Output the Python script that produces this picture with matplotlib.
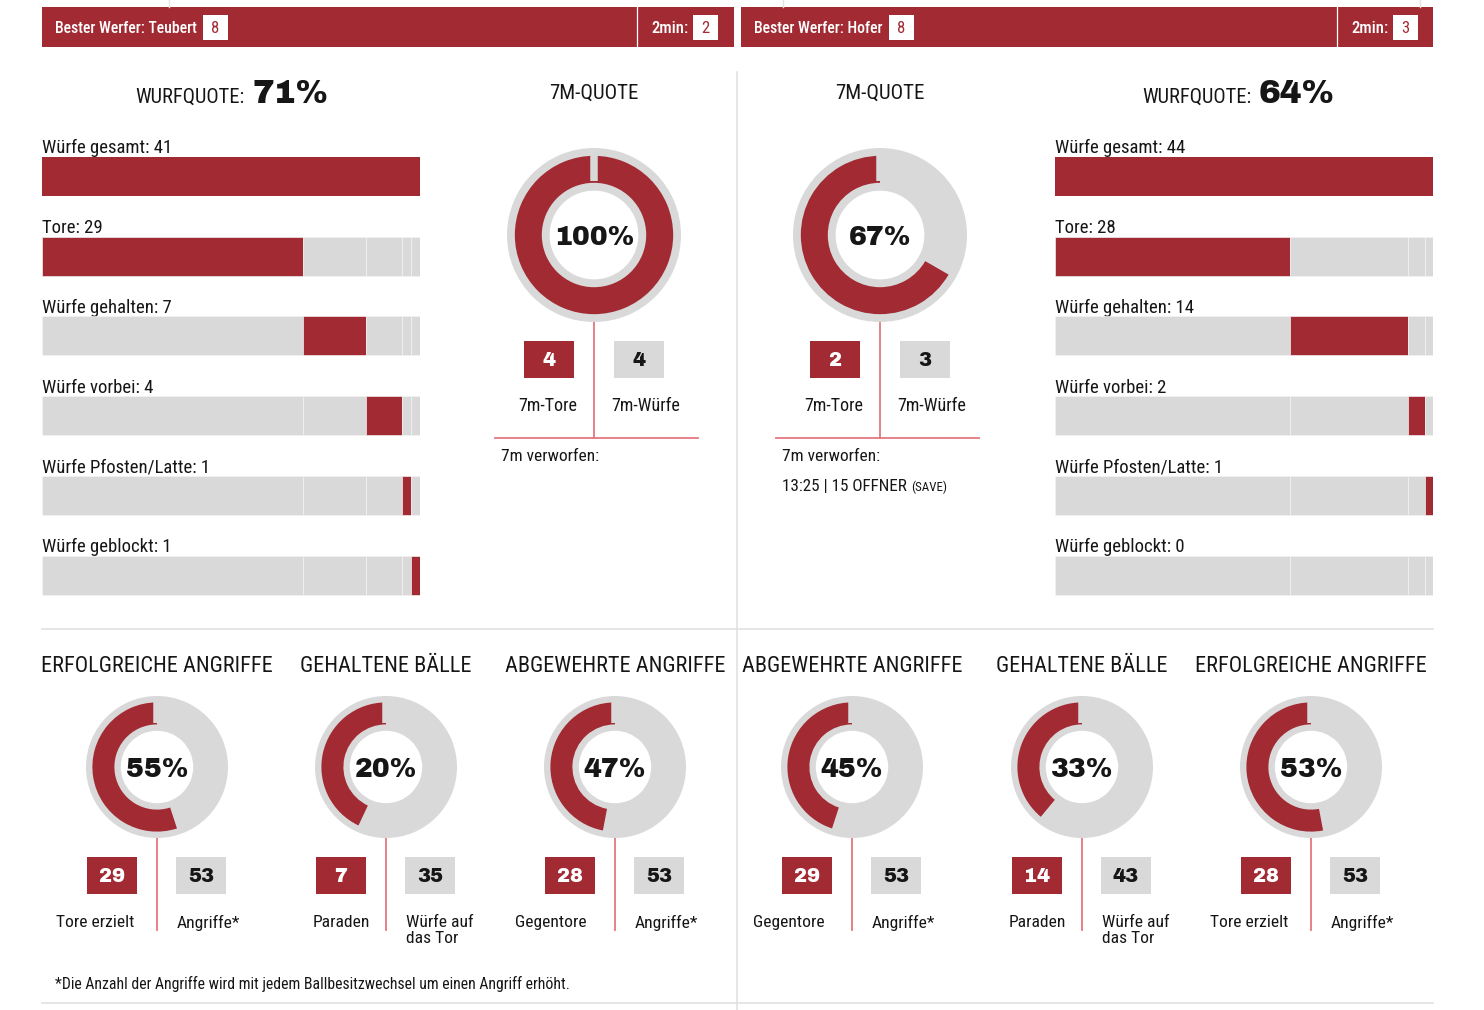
import matplotlib
matplotlib.use('Agg')
import matplotlib.pyplot as plt
from matplotlib.patches import Rectangle

# ---------------- data ----------------
best_player = ['Teubert', 'Hofer']
best_goals = [8, 8]
two_min = [2, 3]
wurfquote = [71, 64]

shot_names = ['Würfe gesamt', 'Tore', 'Würfe gehalten', 'Würfe vorbei',
              'Würfe Pfosten/Latte', 'Würfe geblockt']
shots_total = [41, 44]
shots_left = [29, 7, 4, 1, 1]     # Tore, gehalten, vorbei, Pfosten/Latte, geblockt
shots_right = [28, 14, 2, 1, 0]

seven_goals = [4, 2]
seven_attempts = [4, 3]
seven_missed = ['', '13:25 | 15 OFFNER']
seven_missed_note = ['', '(SAVE)']

titles_left = ['ERFOLGREICHE ANGRIFFE', 'GEHALTENE BÄLLE', 'ABGEWEHRTE ANGRIFFE']
titles_right = ['ABGEWEHRTE ANGRIFFE', 'GEHALTENE BÄLLE', 'ERFOLGREICHE ANGRIFFE']
pct_left = [55, 20, 47]
pct_right = [45, 33, 53]
ring_left = [55, 43, 47]          # ring fill as drawn in the graphic (%)
ring_right = [45, 39, 53]
red_val_left = [29, 7, 28]
gray_val_left = [53, 35, 53]
red_val_right = [29, 14, 28]
gray_val_right = [53, 43, 53]
red_lbl_left = ['Tore erzielt', 'Paraden', 'Gegentore']
gray_lbl_left = ['Angriffe*', 'Würfe auf\ndas Tor', 'Angriffe*']
red_lbl_right = ['Gegentore', 'Paraden', 'Tore erzielt']
gray_lbl_right = ['Angriffe*', 'Würfe auf\ndas Tor', 'Angriffe*']
footnote = '*Die Anzahl der Angriffe wird mit jedem Ballbesitzwechsel um einen Angriff erhöht.'

# ---------------- style ----------------
RED = '#a22a33'
GRAY = '#d9d9d9'
PINK = '#e5767e'
SEP = '#e2e2e2'
TXT = '#161616'
COND = ['Roboto Condensed', 'IBM Plex Sans Condensed', 'DejaVu Sans']
WIDE = ['Archivo Black', 'DejaVu Sans']
PX = 100 / 72.0

W, H = 1484, 1010
fig = plt.figure(figsize=(W / 100, H / 100), dpi=100)
ax = fig.add_axes([0, 0, 1, 1])
ax.set_xlim(0, W)
ax.set_ylim(H, 0)
ax.axis('off')


def px_axes(x0, y0, w, h):
    return fig.add_axes([x0 / W, 1 - (y0 + h) / H, w / W, h / H])


def ctext(x, y, s, size, family=COND, weight='normal', color=TXT, ha='center', cap=0.71):
    """text whose capital letters are vertically centred on y"""
    return ax.text(x, y + cap * size * PX / 2, s, fontsize=size, family=family,
                   fontweight=weight, color=color, ha=ha, va='baseline')


def donut(cx, cy, R, fill, label, size):
    a = px_axes(cx - R, cy - R, 2 * R, 2 * R)
    a.pie([1], colors=[GRAY], radius=1.0, startangle=90, wedgeprops=dict(linewidth=0))
    a.pie([fill, 100 - fill], colors=[RED, 'none'], radius=0.91, startangle=90,
          counterclock=True, wedgeprops=dict(width=0.31, linewidth=0))
    a.plot([0, 0], [0.62, 0.95], color=GRAY, lw=5.4, solid_capstyle='butt')
    a.pie([1], colors=['white'], radius=0.51, wedgeprops=dict(linewidth=0))
    cap = 0.72 * size * PX
    a.text(0, -cap / 2 / R, label, ha='center', va='baseline', fontsize=size,
           family=WIDE, fontweight='bold', color=TXT)
    a.set_xlim(-1, 1)
    a.set_ylim(-1, 1)
    a.set_aspect('equal')
    a.axis('off')


def box(xc, yc, val, red):
    ax.add_patch(Rectangle((xc - 25, yc - 18.5), 50, 37, facecolor=RED if red else GRAY,
                           edgecolor='none'))
    ctext(xc, yc, str(val), 14, family=WIDE, weight='bold',
          color='white' if red else TXT, cap=0.72)


# ---------------- frame lines ----------------
ax.plot([737, 737], [72, 1010], color=SEP, lw=1.2)
ax.plot([42, 1433], [629, 629], color=SEP, lw=1.2)
ax.plot([42, 1433], [1003, 1003], color=SEP, lw=1.2)
for xl in (169, 783, 1420):
    ax.plot([xl, xl], [0, 7], color=SEP, lw=1.0)

# ---------------- header bars ----------------
hdr = [(42, 637), (741, 1337)]
for k, (x0, xdiv) in enumerate(hdr):
    ax.add_patch(Rectangle((x0, 7), 692, 40, facecolor=RED, edgecolor='none'))
    ax.plot([xdiv, xdiv], [7, 47], color='white', lw=0.9)
    t = ctext(x0 + 13, 27, f'Bester Werfer: {best_player[k]}', 11.3, color='white',
              ha='left', weight='medium')
    fig.canvas.draw()
    bb = t.get_window_extent().transformed(ax.transData.inverted())
    bx = bb.x1 + 6
    ax.add_patch(Rectangle((bx, 15), 25, 25, facecolor='white', edgecolor='none'))
    ctext(bx + 12.5, 27.5, str(best_goals[k]), 12, color=RED)
    ctext(xdiv + 14, 27, '2min:', 12, color='white', ha='left', weight='medium')
    ax.add_patch(Rectangle((xdiv + 56, 15), 25, 25, facecolor='white', edgecolor='none'))
    ctext(xdiv + 68.5, 27.5, str(two_min[k]), 12, color=RED)

# ---------------- Wurfquote ----------------
for xr, q in ((245, wurfquote[0]), (1252, wurfquote[1])):
    ax.text(xr, 103, 'WURFQUOTE:', fontsize=14.8, family=COND, color=TXT, ha='right', va='baseline')
    ax.text(xr + 7, 103, f'{q}%', fontsize=23.5, family=WIDE, fontweight='bold',
            color=TXT, ha='left', va='baseline')

# ---------------- shot bars ----------------
def shot_panel(x0, total, segs):
    a = px_axes(x0, 136.5, 378, 478.5)
    xmax = max(total, sum(segs))
    a.barh(0, xmax, height=0.49, color=RED, edgecolor='none')
    for row in range(1, 6):
        left = 0
        for i, v in enumerate(segs):
            a.barh(row, v, left=left, height=0.49,
                   color=RED if i == row - 1 else GRAY, edgecolor='#f4f4f4', linewidth=0.45)
            left += v
    a.set_xlim(0, xmax)
    a.set_ylim(5.5, -0.5)
    a.axis('off')
    vals = [total] + list(segs)
    pitch = 478.5 / 6
    for row in range(6):
        top = 136.5 + pitch * row + pitch * (1 - 0.49) / 2
        ax.text(x0, top - 3.5, f'{shot_names[row]}: {vals[row]}', fontsize=13.5,
                family=COND, color=TXT, ha='left', va='baseline')


shot_panel(42, shots_total[0], shots_left)
shot_panel(1055, shots_total[1], shots_right)

# ---------------- 7m quote ----------------
line_ext = [(-99, 104), (-104, 99)]
for k, cx in enumerate((594, 880)):
    ax.text(cx, 98.5, '7M-QUOTE', fontsize=15, family=COND, color=TXT, ha='center', va='baseline')
    pct = round(100 * seven_goals[k] / seven_attempts[k])
    donut(cx, 235, 87, 100 * seven_goals[k] / seven_attempts[k], f'{pct}%', 19.3)
    lx0, lx1 = cx + line_ext[k][0], cx + line_ext[k][1]
    ax.plot([cx, cx], [322, 438], color=PINK, lw=1.3)
    ax.plot([lx0, lx1], [438, 438], color=PINK, lw=1.3)
    box(cx - 45, 359, seven_goals[k], True)
    box(cx + 45, 359, seven_attempts[k], False)
    ctext(cx - 46, 405, '7m-Tore', 13)
    ctext(cx + 52, 405, '7m-Würfe', 13)
    ctext(lx0 + 6, 455, '7m verworfen:', 12.5, ha='left')
    if seven_missed[k]:
        t = ctext(lx0 + 6, 485, seven_missed[k], 12.3, ha='left')
        fig.canvas.draw()
        bb = t.get_window_extent().transformed(ax.transData.inverted())
        ctext(bb.x1 + 4, 486, seven_missed_note[k], 9.3, ha='left')

# ---------------- bottom donuts ----------------
centers_left = [157, 386, 615]
centers_right = [852, 1082, 1311]
red_off_left = [-62, -45, -64]
red_off_right = [-63, -45, -62]
panels = [(centers_left, titles_left, pct_left, ring_left, red_val_left, gray_val_left,
           red_lbl_left, gray_lbl_left, red_off_left),
          (centers_right, titles_right, pct_right, ring_right, red_val_right, gray_val_right,
           red_lbl_right, gray_lbl_right, red_off_right)]
for cens, tits, pcts, rings, rv, gv, rl, gl, roff in panels:
    for i, cx in enumerate(cens):
        ctext(cx, 664, tits[i], 16)
        donut(cx, 767, 71, rings[i], f'{pcts[i]}%', 19.3)
        ax.plot([cx, cx], [838, 930], color=PINK, lw=1.3)
        box(cx - 45, 875.5, rv[i], True)
        box(cx + 44, 875.5, gv[i], False)
        ax.text(cx + roff[i], 915, rl[i], fontsize=12.6, family=COND, color=TXT,
                ha='center', va='top', linespacing=1.08)
        ax.text(cx + 20, 915, gl[i], fontsize=12.6, family=COND, color=TXT,
                ha='left', va='top', linespacing=1.08)

ctext(55, 983, footnote, 11.3, ha='left')

fig.savefig('out.png', dpi=100)
